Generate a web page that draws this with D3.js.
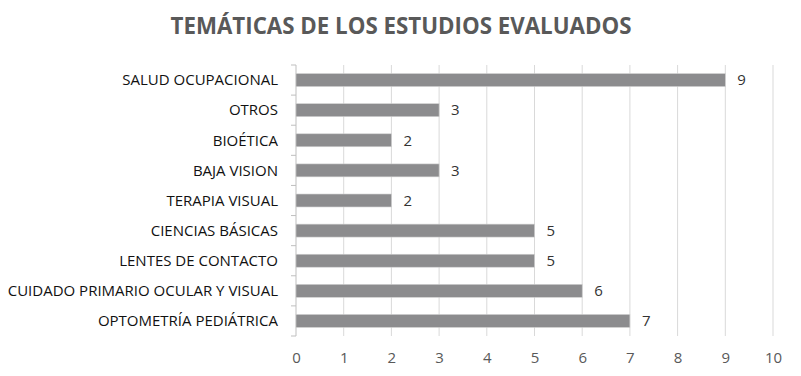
<!DOCTYPE html>
<html>
<head>
<meta charset="utf-8">
<script src="https://cdn.jsdelivr.net/npm/d3@7"></script>
<style>
  body { margin: 0; background: #fff; }
  text { font-family: "Open Sans", sans-serif; }
</style>
</head>
<body>
<div id="chart"></div>
<script>
const categories = ["SALUD OCUPACIONAL", "OTROS", "BIOÉTICA", "BAJA VISION", "TERAPIA VISUAL",
  "CIENCIAS BÁSICAS", "LENTES DE CONTACTO", "CUIDADO PRIMARIO OCULAR Y VISUAL", "OPTOMETRÍA PEDIÁTRICA"];
const values = [9, 3, 2, 3, 2, 5, 5, 6, 7];
const xTicks = [0, 1, 2, 3, 4, 5, 6, 7, 8, 9, 10];

const width = 801, height = 376;
const margin = { top: 65, right: 28, bottom: 40, left: 296 };
const innerW = width - margin.left - margin.right;
const innerH = height - margin.top - margin.bottom;

const svg = d3.select("#chart").append("svg")
  .attr("width", width)
  .attr("height", height);

// Title
svg.append("text")
  .attr("x", 401)
  .attr("y", 34)
  .attr("text-anchor", "middle")
  .style("fill", "#595959")
  .style("font-size", "22.3px")
  .style("font-weight", "bold")
  .text("TEMÁTICAS DE LOS ESTUDIOS EVALUADOS");

const g = svg.append("g")
  .attr("transform", `translate(${margin.left},${margin.top})`);

const x = d3.scaleLinear().domain([0, 10]).range([0, innerW]);
const y = d3.scaleBand().domain(categories).range([0, innerH]).paddingInner(0.57).paddingOuter(0.285);

// Gridlines
g.selectAll(".grid")
  .data(xTicks.slice(1))
  .enter()
  .append("line")
  .attr("x1", d => x(d)).attr("x2", d => x(d))
  .attr("y1", 0).attr("y2", innerH)
  .attr("stroke", "#d9d9d9")
  .attr("stroke-width", 1);

// X axis
const xAxis = g.append("g")
  .attr("transform", `translate(0,${innerH})`)
  .call(d3.axisBottom(x).tickValues(xTicks).tickSize(0).tickPadding(16));
xAxis.select(".domain").remove();
xAxis.selectAll("text")
  .style("fill", "#595959")
  .style("font-size", "15px")
  .style("font-family", "Open Sans, sans-serif");

// Y axis line + category ticks at band edges
g.append("line")
  .attr("x1", 0).attr("x2", 0).attr("y1", 0).attr("y2", innerH)
  .attr("stroke", "#bfbfbf");
const step = y.step();
g.selectAll(".ytick")
  .data(d3.range(categories.length + 1))
  .enter()
  .append("line")
  .attr("x1", -5).attr("x2", 0)
  .attr("y1", i => i * step).attr("y2", i => i * step)
  .attr("stroke", "#bfbfbf");

g.selectAll(".cat")
  .data(categories)
  .enter()
  .append("text")
  .attr("x", -18)
  .attr("y", d => y(d) + y.bandwidth() / 2)
  .attr("dy", "0.35em")
  .attr("text-anchor", "end")
  .style("fill", "#111")
  .style("font-size", "15px")
  .text(d => d);

// Bars
g.selectAll(".bar")
  .data(values)
  .enter()
  .append("rect")
  .attr("x", 0)
  .attr("y", (d, i) => y(categories[i]))
  .attr("width", d => x(d))
  .attr("height", y.bandwidth())
  .attr("fill", "#8c8c8e")
  .attr("stroke", "#d0d0d0")
  .attr("stroke-width", 0.6);

// Value labels
g.selectAll(".val")
  .data(values)
  .enter()
  .append("text")
  .attr("x", d => x(d) + 12)
  .attr("y", (d, i) => y(categories[i]) + y.bandwidth() / 2)
  .attr("dy", "0.35em")
  .style("fill", "#333")
  .style("font-size", "15px")
  .text(d => d);
</script>
</body>
</html>
